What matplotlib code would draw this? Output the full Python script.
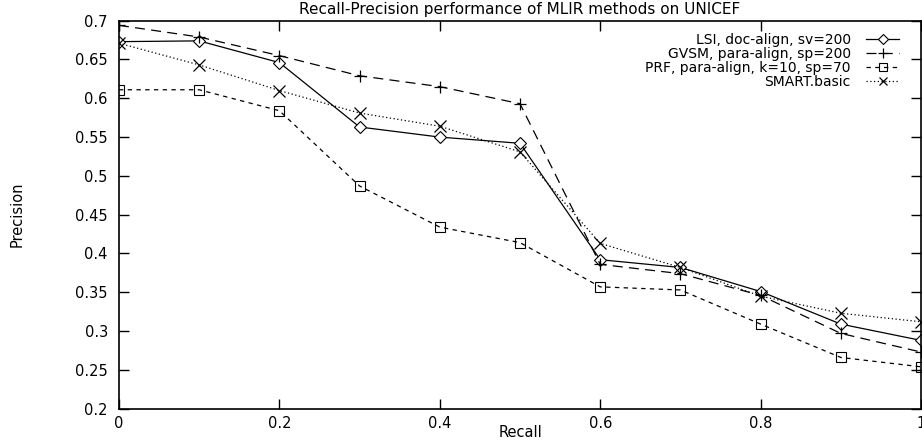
import matplotlib
matplotlib.use("Agg")
import matplotlib.pyplot as plt

plt.rcParams['font.family'] = ['DejaVu Sans']

recall = [0.0, 0.1, 0.2, 0.3, 0.4, 0.5, 0.6, 0.7, 0.8, 0.9, 1.0]
lsi = [0.673, 0.674, 0.646, 0.563, 0.550, 0.542, 0.392, 0.382, 0.351, 0.309, 0.288]
gvsm = [0.694, 0.679, 0.655, 0.629, 0.615, 0.593, 0.386, 0.374, 0.346, 0.297, 0.273]
prf = [0.611, 0.611, 0.584, 0.487, 0.434, 0.414, 0.357, 0.353, 0.309, 0.266, 0.254]
smart = [0.671, 0.643, 0.610, 0.581, 0.564, 0.531, 0.413, 0.382, 0.345, 0.323, 0.312]

labels = ["LSI, doc-align, sv=200", "GVSM, para-align, sp=200",
          "PRF, para-align, k=10, sp=70", "SMART.basic"]
xticks = [0, 0.2, 0.4, 0.6, 0.8, 1.0]
xticklabels = ["0", "0.2", "0.4", "0.6", "0.8", "1"]
yticks = [0.2, 0.25, 0.3, 0.35, 0.4, 0.45, 0.5, 0.55, 0.6, 0.65, 0.7]
yticklabels = ["0.2", "0.25", "0.3", "0.35", "0.4", "0.45", "0.5", "0.55", "0.6", "0.65", "0.7"]

fig = plt.figure(figsize=(9.22, 4.47), dpi=100)
ax = fig.add_axes([0.129, 0.0857, 0.870, 0.868])

lw = 0.9
ax.plot(recall, lsi, color='black', lw=lw, ls='-', marker='D', ms=6,
        mfc='white', mec='black', mew=0.8, label=labels[0])
ax.plot(recall, gvsm, color='black', lw=lw, ls=(0, (8, 5)), marker='+', ms=9,
        mew=0.9, label=labels[1])
ax.plot(recall, prf, color='black', lw=lw, ls=(0, (3.5, 3.5)), marker='s', ms=7,
        mfc='none', mec='black', mew=0.8, label=labels[2])
ax.plot(recall, smart, color='black', lw=lw, ls=(0, (1, 2)), marker='x', ms=8,
        mew=0.9, label=labels[3])

ax.set_xlim(0, 1)
ax.set_ylim(0.2, 0.7)
ax.set_xticks(xticks)
ax.set_xticklabels(xticklabels)
ax.set_yticks(yticks)
ax.set_yticklabels(yticklabels)
ax.tick_params(direction='in', length=7, width=1, top=True, right=True,
               labelsize=10.5)
ax.tick_params(axis='y', pad=8)
ax.tick_params(axis='x', pad=5)
for s in ax.spines.values():
    s.set_linewidth(1.2)

ax.set_title("Recall-Precision performance of MLIR methods on UNICEF",
             fontsize=11, pad=4.5)
ax.set_xlabel("Recall", fontsize=10.5, labelpad=-4)
ax.set_ylabel("Precision", fontsize=10.5, labelpad=36)

leg = ax.legend(loc='upper right', frameon=False, markerfirst=False,
                fontsize=10, handlelength=2.4, labelspacing=0.0,
                handletextpad=1.1, borderaxespad=0.0,
                bbox_to_anchor=(0.98, 0.982), markerscale=0.8)
for t in leg.get_texts():
    t.set_ha('right')
leg._legend_box.align = 'right'

fig.savefig("out.png", dpi=100)
